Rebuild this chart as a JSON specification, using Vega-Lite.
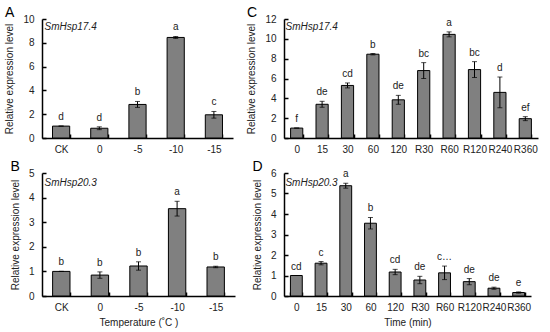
{
  "$schema": "https://vega.github.io/schema/vega-lite/v6.json",
  "padding": {"left": 4, "top": 6, "right": 3, "bottom": 3},
  "datasets": {
    "A": [
      {"cat": "CK", "mean": 1.0, "lo": 1.0, "hi": 1.0, "letter": "d"},
      {"cat": "0", "mean": 0.82, "lo": 0.7, "hi": 0.94, "letter": "d"},
      {"cat": "-5", "mean": 2.82, "lo": 2.57, "hi": 3.07, "letter": "b"},
      {"cat": "-10", "mean": 8.45, "lo": 8.37, "hi": 8.53, "letter": "a"},
      {"cat": "-15", "mean": 1.95, "lo": 1.67, "hi": 2.23, "letter": "c"}
    ],
    "B": [
      {"cat": "CK", "mean": 1.0, "lo": 1.0, "hi": 1.0, "letter": "b"},
      {"cat": "0", "mean": 0.85, "lo": 0.72, "hi": 0.98, "letter": "b"},
      {"cat": "-5", "mean": 1.22, "lo": 1.05, "hi": 1.39, "letter": "b"},
      {"cat": "-10", "mean": 3.55, "lo": 3.25, "hi": 3.85, "letter": "a"},
      {"cat": "-15", "mean": 1.18, "lo": 1.15, "hi": 1.21, "letter": "b"}
    ],
    "C": [
      {"cat": "0", "mean": 1.0, "lo": 1.0, "hi": 1.0, "letter": "f"},
      {"cat": "15", "mean": 3.4, "lo": 3.1, "hi": 3.7, "letter": "de"},
      {"cat": "30", "mean": 5.3, "lo": 5.05, "hi": 5.55, "letter": "cd"},
      {"cat": "60", "mean": 8.45, "lo": 8.38, "hi": 8.52, "letter": "b"},
      {"cat": "120", "mean": 3.85, "lo": 3.4, "hi": 4.3, "letter": "de"},
      {"cat": "R30", "mean": 6.8, "lo": 6.0, "hi": 7.6, "letter": "bc"},
      {"cat": "R60", "mean": 10.45, "lo": 10.2, "hi": 10.7, "letter": "a"},
      {"cat": "R120", "mean": 6.9, "lo": 6.1, "hi": 7.7, "letter": "bc"},
      {"cat": "R240", "mean": 4.6, "lo": 3.05, "hi": 6.15, "letter": "d"},
      {"cat": "R360", "mean": 1.95, "lo": 1.75, "hi": 2.15, "letter": "ef"}
    ],
    "D": [
      {"cat": "0", "mean": 1.0, "lo": 1.0, "hi": 1.0, "letter": "cd"},
      {"cat": "15", "mean": 1.6, "lo": 1.52, "hi": 1.68, "letter": "c"},
      {"cat": "30", "mean": 5.38, "lo": 5.26, "hi": 5.5, "letter": "a"},
      {"cat": "60", "mean": 3.55, "lo": 3.27, "hi": 3.83, "letter": "b"},
      {"cat": "120", "mean": 1.17, "lo": 1.04, "hi": 1.3, "letter": "cd"},
      {"cat": "R30", "mean": 0.78, "lo": 0.6, "hi": 0.96, "letter": "de"},
      {"cat": "R60", "mean": 1.13, "lo": 0.8, "hi": 1.46, "letter": "c…"},
      {"cat": "R120", "mean": 0.7, "lo": 0.55, "hi": 0.85, "letter": "de"},
      {"cat": "R240", "mean": 0.38, "lo": 0.33, "hi": 0.43, "letter": "de"},
      {"cat": "R360", "mean": 0.17, "lo": 0.14, "hi": 0.2, "letter": "e"}
    ]
  },
  "hconcat": [
    {
      "vconcat": [
        {
          "width": 191, "height": 119,
          "title": {"text": "A"},
          "data": {"name": "A"},
          "encoding": {
            "x": {"field": "cat", "type": "ordinal", "sort": null,
              "scale": {"paddingInner": 0.55, "paddingOuter": 0.275},
              "axis": {"labelAngle": 0, "title": null, "tickBand": "extent"}}
          },
          "layer": [
            {"mark": {"type": "bar", "color": "#808080", "stroke": "#000", "strokeWidth": 1},
             "encoding": {"y": {"field": "mean", "type": "quantitative", "scale": {"domain": [0, 10]},
               "title": "Relative expression  level", "axis": {"values": [0, 2, 4, 6, 8, 10]}}}},
            {"mark": {"type": "errorbar", "color": "#000", "ticks": {"size": 5}},
             "encoding": {"y": {"field": "lo", "type": "quantitative", "title": "Relative expression  level", "axis": {"values": [0, 2, 4, 6, 8, 10]}}, "y2": {"field": "hi"}}},
            {"mark": {"type": "text", "baseline": "bottom", "dy": -4, "fontSize": 10, "color": "#222"},
             "encoding": {"y": {"field": "hi", "type": "quantitative", "title": "Relative expression  level", "axis": {"values": [0, 2, 4, 6, 8, 10]}}, "text": {"field": "letter"}}},
            {"data": {"values": [{"gene": "SmHsp17.4"}]},
             "mark": {"type": "text", "fontStyle": "italic", "align": "left", "baseline": "top", "dx": -8, "dy": 3, "fontSize": 10, "color": "#222"},
             "encoding": {"x": {"datum": "CK", "bandPosition": 0}, "y": {"datum": 10, "type": "quantitative", "title": "Relative expression  level", "axis": {"values": [0, 2, 4, 6, 8, 10]}}, "text": {"field": "gene"}}}
          ]
        },
        {
          "width": 193, "height": 123,
          "title": {"text": "B"},
          "data": {"name": "B"},
          "encoding": {
            "x": {"field": "cat", "type": "ordinal", "sort": null,
              "scale": {"paddingInner": 0.55, "paddingOuter": 0.275},
              "axis": {"labelAngle": 0, "title": "Temperature (˚C )", "tickBand": "extent"}}
          },
          "layer": [
            {"mark": {"type": "bar", "color": "#808080", "stroke": "#000", "strokeWidth": 1},
             "encoding": {"y": {"field": "mean", "type": "quantitative", "scale": {"domain": [0, 5]},
               "title": "Relative expression  level", "axis": {"values": [0, 1, 2, 3, 4, 5]}}}},
            {"mark": {"type": "errorbar", "color": "#000", "ticks": {"size": 5}},
             "encoding": {"y": {"field": "lo", "type": "quantitative", "title": "Relative expression  level", "axis": {"values": [0, 1, 2, 3, 4, 5]}}, "y2": {"field": "hi"}}},
            {"mark": {"type": "text", "baseline": "bottom", "dy": -4, "fontSize": 10, "color": "#222"},
             "encoding": {"y": {"field": "hi", "type": "quantitative", "title": "Relative expression  level", "axis": {"values": [0, 1, 2, 3, 4, 5]}}, "text": {"field": "letter"}}},
            {"data": {"values": [{"gene": "SmHsp20.3"}]},
             "mark": {"type": "text", "fontStyle": "italic", "align": "left", "baseline": "top", "dx": -8, "dy": 5, "fontSize": 10, "color": "#222"},
             "encoding": {"x": {"datum": "CK", "bandPosition": 0}, "y": {"datum": 5, "type": "quantitative", "title": "Relative expression  level", "axis": {"values": [0, 1, 2, 3, 4, 5]}}, "text": {"field": "gene"}}}
          ]
        }
      ],
      "spacing": 6
    },
    {
      "vconcat": [
        {
          "width": 254, "height": 119,
          "title": {"text": "C"},
          "data": {"name": "C"},
          "encoding": {
            "x": {"field": "cat", "type": "ordinal", "sort": null,
              "scale": {"paddingInner": 0.52, "paddingOuter": 0.26},
              "axis": {"labelAngle": 0, "title": null, "tickBand": "extent"}}
          },
          "layer": [
            {"mark": {"type": "bar", "color": "#808080", "stroke": "#000", "strokeWidth": 1},
             "encoding": {"y": {"field": "mean", "type": "quantitative", "scale": {"domain": [0, 12]},
               "title": "Relative expression  level", "axis": {"values": [0, 2, 4, 6, 8, 10, 12]}}}},
            {"mark": {"type": "errorbar", "color": "#000", "ticks": {"size": 5}},
             "encoding": {"y": {"field": "lo", "type": "quantitative", "title": "Relative expression  level", "axis": {"values": [0, 2, 4, 6, 8, 10, 12]}}, "y2": {"field": "hi"}}},
            {"mark": {"type": "text", "baseline": "bottom", "dy": -4, "fontSize": 10, "color": "#222"},
             "encoding": {"y": {"field": "hi", "type": "quantitative", "title": "Relative expression  level", "axis": {"values": [0, 2, 4, 6, 8, 10, 12]}}, "text": {"field": "letter"}}},
            {"data": {"values": [{"gene": "SmHsp17.4"}]},
             "mark": {"type": "text", "fontStyle": "italic", "align": "left", "baseline": "top", "dx": -5, "dy": 3, "fontSize": 10, "color": "#222"},
             "encoding": {"x": {"datum": "0", "bandPosition": 0}, "y": {"datum": 12, "type": "quantitative", "title": "Relative expression  level", "axis": {"values": [0, 2, 4, 6, 8, 10, 12]}}, "text": {"field": "gene"}}}
          ]
        },
        {
          "width": 247, "height": 123,
          "title": {"text": "D"},
          "data": {"name": "D"},
          "encoding": {
            "x": {"field": "cat", "type": "ordinal", "sort": null,
              "scale": {"paddingInner": 0.52, "paddingOuter": 0.26},
              "axis": {"labelAngle": 0, "title": "Time (min)", "tickBand": "extent"}}
          },
          "layer": [
            {"mark": {"type": "bar", "color": "#808080", "stroke": "#000", "strokeWidth": 1},
             "encoding": {"y": {"field": "mean", "type": "quantitative", "scale": {"domain": [0, 6]},
               "title": "Relative expression  level", "axis": {"values": [0, 1, 2, 3, 4, 5, 6]}}}},
            {"mark": {"type": "errorbar", "color": "#000", "ticks": {"size": 5}},
             "encoding": {"y": {"field": "lo", "type": "quantitative", "title": "Relative expression  level", "axis": {"values": [0, 1, 2, 3, 4, 5, 6]}}, "y2": {"field": "hi"}}},
            {"mark": {"type": "text", "baseline": "bottom", "dy": -4, "fontSize": 10, "color": "#222"},
             "encoding": {"y": {"field": "hi", "type": "quantitative", "title": "Relative expression  level", "axis": {"values": [0, 1, 2, 3, 4, 5, 6]}}, "text": {"field": "letter"}}},
            {"data": {"values": [{"gene": "SmHsp20.3"}]},
             "mark": {"type": "text", "fontStyle": "italic", "align": "left", "baseline": "top", "dx": -5, "dy": 5, "fontSize": 10, "color": "#222"},
             "encoding": {"x": {"datum": "0", "bandPosition": 0}, "y": {"datum": 6, "type": "quantitative", "title": "Relative expression  level", "axis": {"values": [0, 1, 2, 3, 4, 5, 6]}}, "text": {"field": "gene"}}}
          ]
        }
      ],
      "spacing": 6
    }
  ],
  "spacing": 11,
  "config": {
    "font": "Liberation Sans",
    "view": {"stroke": null},
    "axis": {"domainColor": "#000", "tickColor": "#000", "labelColor": "#222", "titleColor": "#222",
      "labelFontSize": 10, "titleFontSize": 10, "titleFontWeight": "normal", "grid": false,
      "tickSize": -4, "labelPadding": 12, "titlePadding": 8, "domainWidth": 1.5, "tickWidth": 1.5},
    "axisX": {"labelPadding": 10, "titlePadding": 5},
    "title": {"fontSize": 14, "fontWeight": "normal", "anchor": "start", "frame": "bounds", "color": "#000", "offset": -6}
  }
}
